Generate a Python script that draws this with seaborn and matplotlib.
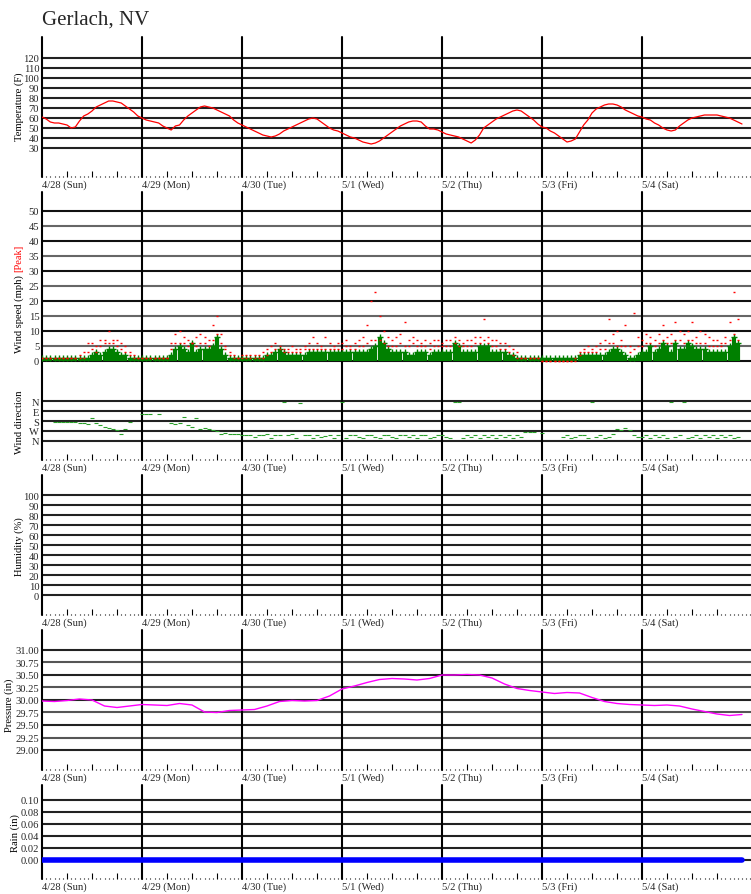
import matplotlib
matplotlib.use("Agg")
import matplotlib.pyplot as plt
import numpy as np
import seaborn as sns

nan = np.nan

STATION = "Gerlach, NV"
DAY_LABELS = ["4/28 (Sun)", "4/29 (Mon)", "4/30 (Tue)", "5/1 (Wed)",
              "5/2 (Thu)", "5/3 (Fri)", "5/4 (Sat)"]

# hourly temperature (F), 4/28 00:00 .. 5/5 00:00
temperature = [
    61, 59, 56, 55, 55, 54, 53, 50, 51, 57, 62, 64, 67, 71, 73, 75, 77, 77, 76, 75, 72, 69, 66, 62,
    60, 58, 57, 56, 55, 52, 50, 48, 52, 53, 58, 62, 65, 68, 71, 72, 71, 70, 68, 66, 64, 62, 58, 55,
    53, 51, 49, 47, 45, 43, 42, 41, 42, 44, 47, 49, 51, 53, 55, 57, 59, 60, 59, 56, 53, 50, 48, 47,
    45, 43, 41, 40, 38, 36, 35, 34, 35, 37, 40, 43, 46, 49, 52, 54, 56, 57, 57, 56, 52, 49, 49, 48,
    46, 44, 43, 42, 41, 39, 37, 35, 38, 43, 50, 53, 56, 59, 61, 63, 65, 67, 68, 67, 64, 61, 58, 54,
    51, 50, 47, 45, 42, 39, 36, 37, 39, 46, 53, 58, 65, 69, 71, 73, 74, 74, 73, 71, 68, 66, 64, 62,
    61, 59, 58, 55, 53, 50, 48, 47, 48, 52, 55, 58, 60, 61, 62, 63, 63, 63, 63, 62, 61, 60, 58, 56, 54,
]

# barometric pressure (in), every 3 hours
pressure = [
    29.98, 29.97, 29.99, 30.02, 30.00, 29.88, 29.85, 29.88,
    29.91, 29.90, 29.89, 29.93, 29.90, 29.76, 29.75, 29.79,
    29.80, 29.81, 29.88, 29.97, 29.99, 29.98, 29.99, 30.08,
    30.22, 30.28, 30.35, 30.41, 30.43, 30.42, 30.40, 30.43,
    30.50, 30.50, 30.51, 30.50, 30.44, 30.32, 30.23, 30.19,
    30.16, 30.13, 30.15, 30.14, 30.05, 29.97, 29.93, 29.91,
    29.90, 29.89, 29.90, 29.88, 29.82, 29.77, 29.72, 29.69, 29.71,
]

# rain (in), daily
rain = [0.00, 0.00, 0.00, 0.00, 0.00, 0.00, 0.00, 0.00]

# hourly wind speed (mph)
wind_avg = [
    1, 1, 1, 1, 1, 1, 1, 1, 1, 1, 1, 1, 2, 3, 2, 3, 4, 4, 3, 2, 2, 1, 1, 1,
    1, 1, 1, 1, 1, 1, 1, 2, 4, 5, 4, 3, 6, 3, 4, 4, 4, 5, 8, 4, 2, 1, 1, 1,
    1, 1, 1, 1, 1, 1, 2, 2, 3, 4, 3, 2, 2, 2, 2, 2, 3, 3, 3, 3, 3, 3, 3, 3,
    3, 3, 3, 3, 3, 3, 3, 4, 5, 8, 6, 4, 3, 3, 3, 3, 2, 2, 3, 3, 3, 2, 3, 3,
    3, 3, 3, 6, 5, 3, 3, 3, 3, 5, 5, 5, 3, 3, 3, 3, 2, 2, 1, 1, 1, 1, 1, 1,
    1, 1, 1, 1, 1, 1, 1, 1, 1, 2, 2, 2, 2, 2, 2, 2, 3, 4, 4, 3, 2, 1, 1, 2,
    3, 3, 5, 3, 4, 6, 5, 3, 6, 4, 4, 6, 5, 4, 4, 4, 3, 3, 3, 3, 3, 5, 8, 6,
]
wind_gust = [
    1, 1, 1, 1, 1, 1, 1, 1, 1, 1, 1, 3, 4, 3, 5, 6, 6, 6, 5, 4, 3, 2, 1, 1,
    1, 1, 1, 1, 1, 1, 1, 4, 6, 6, 6, 5, 6, 5, 6, 6, 5, 7, 9, 6, 4, 2, 1, 1,
    1, 1, 1, 1, 1, 1, 2, 3, 4, 4, 3, 3, 3, 3, 3, 4, 4, 4, 4, 4, 4, 4, 4, 4,
    4, 5, 4, 4, 5, 5, 6, 7, 7, 7, 6, 5, 5, 5, 6, 5, 5, 6, 5, 5, 5, 4, 5, 5,
    5, 5, 5, 6, 5, 5, 5, 5, 6, 6, 7, 6, 5, 5, 4, 4, 3, 2, 1, 1, 1, 1, 1, 1,
    0, 0, 0, 0, 0, 0, 0, 0, 1, 2, 3, 3, 3, 3, 4, 4, 6, 6, 5, 5, 5, 3, 4, 5,
    5, 6, 6, 5, 6, 7, 6, 6, 7, 7, 6, 7, 7, 6, 6, 6, 5, 5, 5, 5, 6, 7, 9, 7,
]
wind_peak = [
    1, 1, 1, 1, 1, 1, 1, 1, 1, 2, 3, 6, 6, 5, 7, 7, 10, 7, 7, 6, 5, 3, 2, 1,
    1, 1, 1, 1, 1, 1, 1, 6, 9, 10, 8, 7, 6, 8, 9, 8, 7, 12, 15, 9, 5, 3, 2, 1,
    2, 2, 2, 2, 2, 3, 4, 5, 6, 5, 4, 4, 5, 4, 4, 5, 6, 8, 6, 5, 8, 6, 5, 6,
    6, 7, 5, 6, 7, 8, 12, 20, 23, 15, 10, 8, 7, 8, 9, 13, 7, 8, 7, 6, 7, 6, 7, 7,
    6, 7, 7, 8, 7, 6, 7, 7, 8, 8, 14, 8, 7, 7, 6, 6, 5, 4, 3, 1, 1, 1, 1, 1,
    0, 0, 0, 0, 0, 0, 0, 0, 0, 3, 4, 5, 4, 5, 6, 7, 14, 9, 10, 7, 12, 5, 16, 8,
    7, 9, 8, 7, 9, 12, 8, 9, 13, 10, 9, 10, 13, 8, 10, 9, 8, 7, 7, 6, 8, 13, 23, 14,
]
# hourly wind direction (degrees), nan = calm
wind_dir = [
    nan, nan, nan, 190, 190, 190, 190, 190, 190, 195, 200, 210, 150, 200, 220, 235, 245, 250, 260, 300, 250, 190, nan, nan,
    120, 120, 120, nan, 120, nan, nan, 200, 210, 195, 140, 220, 230, 150, 250, 240, 255, 260, 270, 300, 290, 300, 300, 300,
    305, 310, 305, 320, 310, 305, 300, 330, 310, 305, 10, 310, 300, 330, 15, 305, 310, 330, 305, 320, 315, 310, 330, 305,
    5, 330, 310, 305, 320, 330, 310, 305, 320, 330, 305, 310, 320, 330, 310, 305, 320, 310, 330, 305, 310, 330, 320, 310,
    310, 320, 330, 5, 10, 330, 310, 320, 305, 330, 310, 320, 305, 330, 310, 320, 305, 330, 310, 320, 280, 280, 280, nan,
    285, nan, nan, nan, nan, 320, 310, 330, 320, 310, 305, 330, 5, 320, 310, 330, 320, 300, 250, 260, 240, 265, 310, 320,
    320, 310, 330, 305, 320, 310, 330, 5, 320, 310, 5, 330, 320, 310, 330, 305, 320, 310, 330, 305, 320, 310, 330, 320,
]

TEMP_TICKS = [30, 40, 50, 60, 70, 80, 90, 100, 110, 120]
WIND_TICKS = [0, 5, 10, 15, 20, 25, 30, 35, 40, 45, 50]
DIR_TICKS = [0, 90, 180, 270, 360]
DIR_LABELS = ["N", "E", "S", "W", "N"]
HUM_TICKS = [0, 10, 20, 30, 40, 50, 60, 70, 80, 90, 100]
PRES_TICKS = [29.00, 29.25, 29.50, 29.75, 30.00, 30.25, 30.50, 30.75, 31.00]
RAIN_TICKS = [0.00, 0.02, 0.04, 0.06, 0.08, 0.10]

# layout in pixels (100 px per day)
W, H = 751, 895
LEFT = 42
XMAX = (W - LEFT) / 100 * 24
FS = 7.6

sns.set_style("white")
plt.rcParams["font.family"] = ["Liberation Serif", "DejaVu Serif"]

fig = plt.figure(figsize=(W / 100, H / 100), dpi=100)
fig.patch.set_facecolor("white")


def add_panel(top, bottom):
    ax = fig.add_axes([LEFT / W, 1 - bottom / H, (W - LEFT) / W, (bottom - top) / H])
    for s in ax.spines.values():
        s.set_visible(False)
    ax.set_facecolor("none")
    return ax


def grid_rows(ax, values, labels, colors):
    for v, c in zip(values, colors):
        ax.axhline(v, color=c, lw=1.5, zorder=1)
    ax.set_yticks(values)
    ax.set_yticklabels(labels)
    ax.tick_params(axis="y", length=0, pad=2.0, labelsize=FS)


def day_axis(ax, ticks=True):
    for d in range(0, 168, 24):
        ax.axvline(d, color="black", lw=1.5, zorder=2, clip_on=False)
    ax.set_xlim(0, XMAX)
    if not ticks:
        ax.set_xticks([])
        return
    ax.set_xticks([h for h in range(6, 168, 6) if h % 24])
    ax.set_xticks(range(0, int(XMAX) + 1), minor=True)
    ax.set_xticklabels([])
    ax.tick_params(axis="x", which="major", direction="in", length=4.3, width=0.8,
                   color="black", bottom=True)
    ax.tick_params(axis="x", which="minor", direction="in", length=1.0, width=0.8,
                   color="black", bottom=True)
    for d, lbl in zip(range(0, 168, 24), DAY_LABELS):
        ax.annotate(lbl, xy=(d, 0), xycoords=("data", "axes fraction"),
                    xytext=(0, -2), textcoords="offset points",
                    ha="left", va="top", fontsize=FS)


def ylab(x, y, text, color="black"):
    fig.text(x / W, 1 - y / H, text, rotation=90, ha="center", va="center",
             fontsize=FS, color=color)


hours_t = np.arange(len(temperature))
hours_p = np.arange(len(pressure)) * 3
hours_r = np.arange(len(rain)) * 24
hours_w = np.arange(len(wind_avg))

fig.text(LEFT / W, 1 - 25 / H, STATION, fontsize=15, ha="left", va="baseline")

# temperature
ax_t = add_panel(38, 178)
grid_rows(ax_t, TEMP_TICKS, [str(v) for v in TEMP_TICKS], ["#222222"] * len(TEMP_TICKS))
sns.lineplot(x=hours_t, y=temperature, ax=ax_t, color="#ff0000", lw=0.9, zorder=3)
ax_t.set_ylim(1, 141)
day_axis(ax_t)
ylab(19, 107, "Temperature (F)")

# wind speed
ax_w = add_panel(193, 380)
grid_rows(ax_w, WIND_TICKS, [str(v) for v in WIND_TICKS],
          ["#111111" if v % 10 == 0 else "#666666" for v in WIND_TICKS])
ax_w.vlines(hours_w, 0, wind_avg, colors="#008000", lw=3, zorder=3)
sns.scatterplot(x=hours_w, y=wind_avg, ax=ax_w, marker="+", s=20, color="#008000",
                linewidth=1, zorder=4)
sns.scatterplot(x=hours_w, y=wind_gust, ax=ax_w, marker="_", s=4, color="#ff0000",
                linewidth=1, zorder=5)
sns.scatterplot(x=hours_w, y=wind_peak, ax=ax_w, marker="_", s=4, color="#ff0000",
                linewidth=1, zorder=5)
ax_w.set_ylim(-6, 56.33)
day_axis(ax_w, ticks=False)
ylab(19, 314, "Wind speed (mph)")
ylab(19, 258, "[Peak]", color="#ff0000")

# wind direction
ax_d = add_panel(380, 461)
grid_rows(ax_d, DIR_TICKS, DIR_LABELS, ["#222222"] * len(DIR_TICKS))
sns.scatterplot(x=hours_w, y=wind_dir, ax=ax_d, marker="_", s=5, color="#2aa02a",
                linewidth=0.8, zorder=3)
ax_d.set_ylim(531, -198)
day_axis(ax_d)
ylab(19, 422, "Wind direction")

# humidity (no data)
ax_h = add_panel(476, 616)
grid_rows(ax_h, HUM_TICKS, [str(v) for v in HUM_TICKS], ["#222222"] * len(HUM_TICKS))
ax_h.set_ylim(-20, 120)
day_axis(ax_h)
ylab(19, 547, "Humidity (%)")

# pressure
ax_p = add_panel(631, 771)
grid_rows(ax_p, PRES_TICKS, [f"{v:.2f}" for v in PRES_TICKS],
          ["#222222" if (v * 4) % 2 == 0 else "#555555" for v in PRES_TICKS])
sns.lineplot(x=hours_p, y=pressure, ax=ax_p, color="#ff00ff", lw=1.0, zorder=3)
ax_p.set_ylim(28.6, 31.4)
day_axis(ax_p)
ylab(9, 705, "Pressure (in)")

# rain
ax_r = add_panel(786, 880)
grid_rows(ax_r, RAIN_TICKS, [f"{v:.2f}" for v in RAIN_TICKS], ["#222222"] * len(RAIN_TICKS))
sns.lineplot(x=hours_r, y=rain, ax=ax_r, color="#0000ff", lw=4, zorder=3)
ax_r.set_ylim(-0.0322, 0.1243)
day_axis(ax_r)
ylab(15, 833, "Rain (in)")

for ax in (ax_t, ax_w, ax_d, ax_h, ax_p, ax_r):
    ax.set_xlim(0, XMAX)
    ax.set_xlabel("")
    ax.set_ylabel("")

fig.savefig("out.png", dpi=100)
